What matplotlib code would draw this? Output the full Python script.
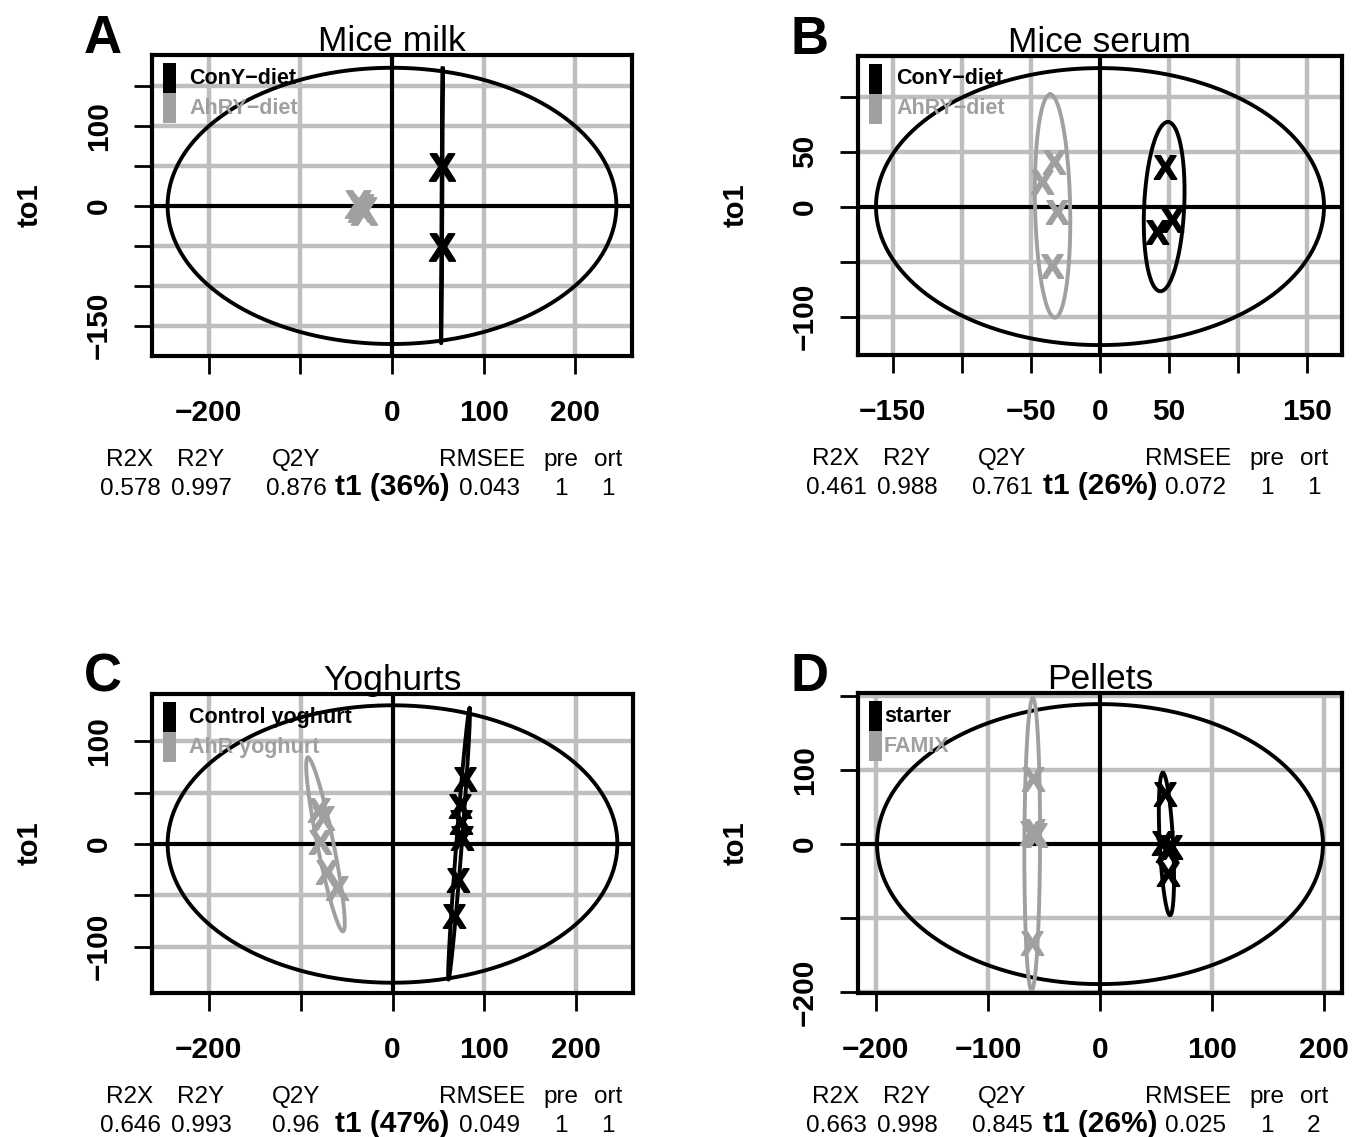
import numpy as np
import matplotlib
matplotlib.use('Agg')
import matplotlib.pyplot as plt
from matplotlib.patches import Rectangle

plt.rcParams['font.family'] = ['Liberation Sans', 'DejaVu Sans']
plt.rcParams['mathtext.fontset'] = 'custom'
plt.rcParams['mathtext.bf'] = 'Liberation Sans:bold'

W, H = 1352, 1137
BLACK = '#000000'
GREY = '#A0A0A0'
GRID = '#BEBEBE'

# ---- panel A: mice milk
a_con_t1 = [55, 55]
a_con_to1 = [49, -51]
a_ahr_t1 = [-37, -34, -31]
a_ahr_to1 = [2, -3, -6]
a_con_ell = [54.5, 0, 0.8, 172, 0.4]      # cx, cy, dx, dy, w
a_ahr_ell = [-34, -2, 3, 5, 1]
a_outer = [245, 173]
a_stats = ['0.578', '0.997', '0.876', '0.043', '1', '1']
a_pct = 36

# ---- panel B: mice serum
b_con_t1 = [47, 52, 41]
b_con_to1 = [36, -12, -23]
b_ahr_t1 = [-33, -42, -31, -35]
b_ahr_to1 = [41, 22, -5, -54]
b_con_ell = [46.4, 0, 2.7, 77, 14.5]
b_ahr_ell = [-34.3, 0.5, -1.7, 101.5, 12.7]
b_outer = [162, 126]
b_stats = ['0.461', '0.988', '0.761', '0.072', '1', '1']
b_pct = 26

# ---- panel C: yoghurts
c_con_t1 = [79, 73, 75, 76, 71, 67]
c_con_to1 = [63, 37, 21, 6, -35, -70]
c_ahr_t1 = [-80, -76, -79, -71, -60]
c_ahr_to1 = [33, 25, 2, -27, -43]
c_con_ell = [72.5, 0, 11.5, 132, 3]
c_ahr_ell = [-73, -0.5, -19, 84.5, 9]
c_outer = [245, 135]
c_stats = ['0.646', '0.993', '0.96', '0.049', '1', '1']
c_pct = 47

# ---- panel D: pellets
d_con_t1 = [58, 56, 60, 63, 61]
d_con_to1 = [68, 2, -8, -4, -40]
d_ahr_t1 = [-60, -62, -57, -59, -61]
d_ahr_to1 = [88, 15, 12, 18, -133]
d_con_ell = [59.3, 0, -3.2, 96, 6]
d_ahr_ell = [-60.5, 0, 0.5, 197, 7]
d_outer = [199, 189]
d_stats = ['0.663', '0.998', '0.845', '0.025', '1', '2']
d_pct = 26

stat_names = ['R2X', 'R2Y', 'Q2Y', 'RMSEE', 'pre', 'ort']
name_dx = [-22, 49, 144, 330, 409, 456]
val_dx = [-22, 49, 144, 337, 409, 456]

fig = plt.figure(figsize=(W / 100, H / 100), dpi=100)


def fpos(x, y):
    return x / W, 1 - y / H


def panel(box, letter, title, xlim, ylim, xticks, xlabs, yticks, ylabs,
          outer, con, ahr, con_ell, ahr_ell, names, leg_dx, stats, pct, msize):
    l, t, r, b = box
    ax = fig.add_axes([l / W, 1 - b / H, (r - l) / W, (b - t) / H])
    ax.set_xlim(*xlim)
    ax.set_ylim(*ylim)
    for v in xticks:
        if v != 0:
            ax.axvline(v, color=GRID, lw=3.2, zorder=0)
    for v in yticks:
        if v != 0:
            ax.axhline(v, color=GRID, lw=3.2, zorder=0)
    ax.axvline(0, color=BLACK, lw=3, zorder=1)
    ax.axhline(0, color=BLACK, lw=3, zorder=1)

    tt = np.linspace(0, 2 * np.pi, 300)
    ax.plot(outer[0] * np.cos(tt), outer[1] * np.sin(tt), color=BLACK, lw=2.8, zorder=3)
    for ell, col in [(con_ell, BLACK), (ahr_ell, GREY)]:
        cx, cy, dx, dy, w = ell
        ax.plot(cx + dx * np.cos(tt) + w * np.sin(tt), cy + dy * np.cos(tt),
                color=col, lw=2.8, zorder=3)
    for (xs, ys), col in [(ahr, GREY), (con, BLACK)]:
        ax.scatter(xs, ys, marker=r'$\mathbf{X}$', s=msize, color=col,
                   edgecolors=col, linewidths=1.3, zorder=4)

    ax.set_xticks(xticks)
    ax.set_xticklabels(xlabs)
    ax.set_yticks(yticks)
    ax.set_yticklabels(ylabs, rotation=90, va='center')
    ax.tick_params(direction='out', length=13, width=2, labelsize=21.5, color=BLACK)
    ax.tick_params(axis='x', pad=18)
    ax.tick_params(axis='y', pad=15)
    for lab in ax.get_xticklabels() + ax.get_yticklabels():
        lab.set_fontweight('bold')
    for sp in ax.spines.values():
        sp.set_linewidth(3)
        sp.set_zorder(5)

    # legend
    for i, col in enumerate([BLACK, GREY]):
        x0, y0 = fpos(l + 11, t + 38 + 30 * i)
        fig.patches.append(Rectangle((x0, y0), 13 / W, 30 / H, transform=fig.transFigure,
                                     facecolor=col, edgecolor='none', zorder=2))
        fig.text(*fpos(l + leg_dx, t + 23 + 30 * i), names[i], color=col,
                 fontsize=15.5, fontweight='bold', ha='left', va='center', zorder=2)

    # titles and labels
    fig.text(*fpos((l + r) / 2, t - 4), title, fontsize=25.5, ha='center', va='baseline')
    fig.text(*fpos(l - 49, t - 2), letter, fontsize=38, fontweight='bold',
             ha='center', va='baseline')
    fig.text(*fpos(l - 122, (t + b) / 2), 'to1', fontsize=21, fontweight='bold',
             rotation=90, ha='center', va='center')

    # model summary
    for name, val, ndx, vdx in zip(stat_names, stats, name_dx, val_dx):
        fig.text(*fpos(l + ndx, b + 110), name, fontsize=17.5, ha='center', va='baseline')
        fig.text(*fpos(l + vdx, b + 139), val, fontsize=17.5, ha='center', va='baseline')
    fig.text(*fpos((l + r) / 2, b + 139), 't1 (%d%%)' % pct, fontsize=21.5,
             fontweight='bold', ha='center', va='baseline')


M = '\u2212'
panel((152, 55, 632, 356), 'A', 'Mice milk', (-262, 262), (-188, 189),
      [-200, -100, 0, 100, 200], [M + '200', '', '0', '100', '200'],
      [-150, -100, -50, 0, 50, 100, 150], [M + '150', '', '', '0', '', '100', ''],
      a_outer, (a_con_t1, a_con_to1), (a_ahr_t1, a_ahr_to1), a_con_ell, a_ahr_ell,
      ['ConY\u2212diet', 'AhRY\u2212diet'], 37, a_stats, a_pct, 380)

panel((858, 56, 1342, 355), 'B', 'Mice serum', (-175, 175), (-135, 137),
      [-150, -100, -50, 0, 50, 100, 150], [M + '150', '', M + '50', '0', '50', '', '150'],
      [-100, -50, 0, 50, 100], [M + '100', '', '0', '50', ''],
      b_outer, (b_con_t1, b_con_to1), (b_ahr_t1, b_ahr_to1), b_con_ell, b_ahr_ell,
      ['ConY\u2212diet', 'AhRY\u2212diet'], 38, b_stats, b_pct, 280)

panel((152, 694, 633, 993), 'C', 'Yoghurts', (-262, 262), (-145, 146),
      [-200, -100, 0, 100, 200], [M + '200', '', '0', '100', '200'],
      [-100, -50, 0, 50, 100], [M + '100', '', '0', '', '100'],
      c_outer, (c_con_t1, c_con_to1), (c_ahr_t1, c_ahr_to1), c_con_ell, c_ahr_ell,
      ['Control yoghurt', 'AhR yoghurt'], 37, c_stats, c_pct, 280)

panel((858, 693, 1342, 993), 'D', 'Pellets', (-216, 216), (-201, 204),
      [-200, -100, 0, 100, 200], [M + '200', M + '100', '0', '100', '200'],
      [-200, -100, 0, 100, 200], [M + '200', '', '0', '100', ''],
      d_outer, (d_con_t1, d_con_to1), (d_ahr_t1, d_ahr_to1), d_con_ell, d_ahr_ell,
      ['starter', 'FAMIX'], 26, d_stats, d_pct, 280)

fig.savefig('out.png', dpi=100)
